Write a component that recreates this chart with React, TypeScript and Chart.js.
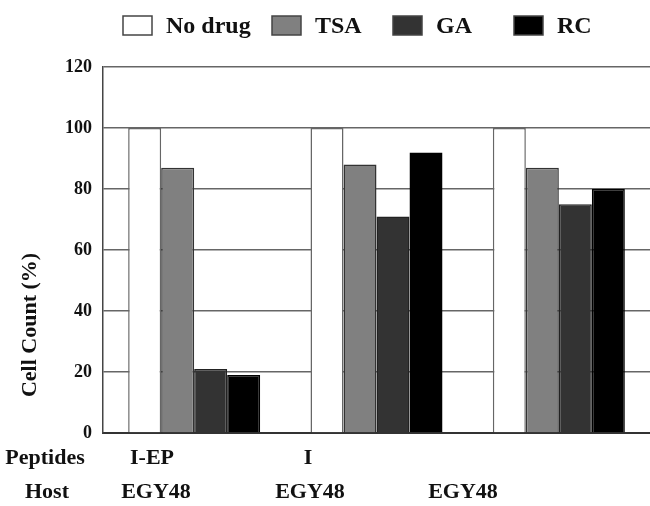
import React, { useEffect, useRef } from "react";
import { Chart, registerables } from "chart.js";

Chart.register(...registerables);

const categories = ["I-EP / EGY48", "I / EGY48", "EGY48"];
const peptideLabels = ["I-EP", "I", ""];
const hostLabels = ["EGY48", "EGY48", "EGY48"];
const rowTitles = ["Peptides", "Host"];
const seriesNames = ["No drug", "TSA", "GA", "RC"];
const noDrug = [100, 100, 100];
const tsa = [87, 88, 87];
const ga = [21, 71, 75];
const rc = [19, 92, 80];
const yTicks = [0, 20, 40, 60, 80, 100, 120];
const yTitle = "Cell Count (%)";

const FONT = "'Liberation Serif', 'Times New Roman', serif";

const overlayPlugin = {
  id: "overlay",
  afterDraw(chart: any) {
    const ctx = chart.ctx;
    ctx.save();
    // legend
    const legendX = [123, 272, 393, 514];
    chart.data.datasets.forEach((ds: any, i: number) => {
      const x = legendX[i];
      ctx.fillStyle = ds.backgroundColor;
      ctx.fillRect(x, 16, 29, 19);
      ctx.lineWidth = 1.5;
      ctx.strokeStyle = "#444";
      ctx.strokeRect(x, 16, 29, 19);
      ctx.fillStyle = "#111";
      ctx.font = `bold 24px ${FONT}`;
      ctx.textAlign = "left";
      ctx.textBaseline = "middle";
      ctx.fillText(ds.label, x + 43, 27);
    });
    // y title
    ctx.save();
    ctx.translate(30, 325);
    ctx.rotate(-Math.PI / 2);
    ctx.font = `bold 22px ${FONT}`;
    ctx.textAlign = "center";
    ctx.textBaseline = "middle";
    ctx.fillStyle = "#111";
    ctx.fillText(yTitle, 0, 0);
    ctx.restore();
    // bottom label rows
    ctx.font = `bold 22px ${FONT}`;
    ctx.textAlign = "center";
    ctx.textBaseline = "middle";
    ctx.fillStyle = "#111";
    ctx.fillText(rowTitles[0], 45, 458);
    ctx.fillText(rowTitles[1], 47, 492);
    const pepX = [152, 308, 463];
    const hostX = [156, 310, 463];
    peptideLabels.forEach((t, i) => t && ctx.fillText(t, pepX[i], 458));
    hostLabels.forEach((t, i) => ctx.fillText(t, hostX[i], 492));
    ctx.restore();
  },
};

export default function App() {
  const ref = useRef<HTMLCanvasElement | null>(null);
  useEffect(() => {
    if (!ref.current) return;
    const colors = ["#ffffff", "#808080", "#333333", "#000000"];
    const borders = ["#666666", "#333333", "#222222", "#000000"];
    const values = [noDrug, tsa, ga, rc];
    const chart = new Chart(ref.current, {
      type: "bar",
      data: {
        labels: categories,
        datasets: seriesNames.map((name, i) => ({
          label: name,
          data: values[i],
          backgroundColor: colors[i],
          borderColor: borders[i],
          borderWidth: 1.5,
          categoryPercentage: 0.724,
          barPercentage: 1,
        })),
      },
      options: {
        responsive: false,
        animation: false,
        layout: { padding: { top: 67, left: 0, right: 0, bottom: 0 } },
        plugins: { legend: { display: false }, tooltip: { enabled: false } },
        scales: {
          x: {
            grid: { display: false },
            ticks: { display: false },
            border: { display: true, color: "#333", width: 2 },
            afterFit: (axis: any) => {
              axis.height = 73;
            },
          },
          y: {
            min: 0,
            max: 120,
            afterBuildTicks: (axis: any) => {
              axis.ticks = yTicks.map((v) => ({ value: v }));
            },
            grid: { color: "#666", lineWidth: 1.5, drawTicks: false },
            border: { display: true, color: "#444", width: 1.5 },
            ticks: {
              padding: 11,
              color: "#111",
              font: { family: FONT, size: 18, weight: "bold" },
            },
            afterFit: (axis: any) => {
              axis.width = 103;
            },
          },
        },
      },
      plugins: [overlayPlugin],
    } as any);
    return () => chart.destroy();
  }, []);
  return (
    <div style={{ position: "absolute", left: 0, top: 0, width: 650, height: 506, background: "#fff" }}>
      <canvas ref={ref} width={650} height={506} />
    </div>
  );
}
